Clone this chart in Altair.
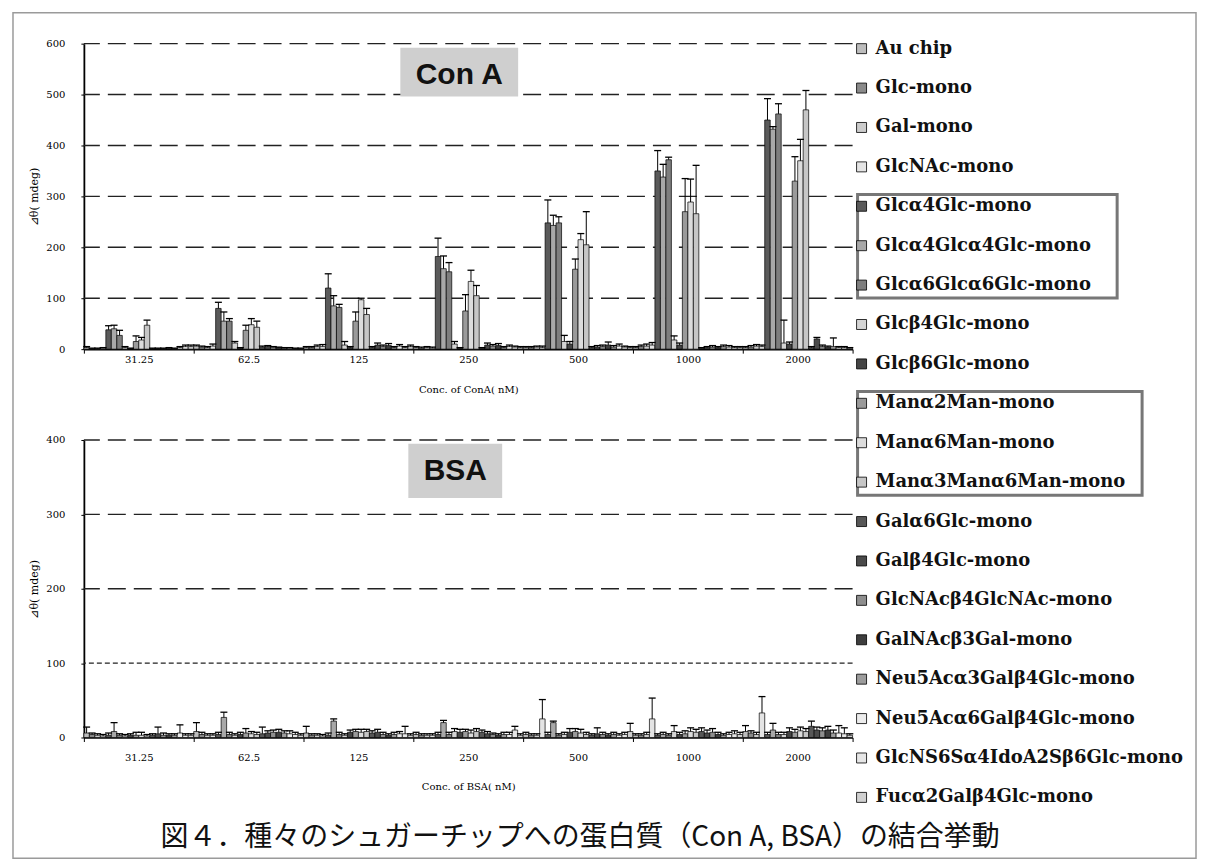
import altair as alt
import pandas as pd

concs = ["31.25", "62.5", "125", "250", "500", "1000", "2000"]

series = [
    "Au chip", "Glc-mono", "Gal-mono", "GlcNAc-mono",
    "Glcα4Glc-mono", "Glcα4Glcα4Glc-mono", "Glcα6Glcα6Glc-mono",
    "Glcβ4Glc-mono", "Glcβ6Glc-mono",
    "Manα2Man-mono", "Manα6Man-mono", "Manα3Manα6Man-mono",
    "Galα6Glc-mono", "Galβ4Glc-mono", "GlcNAcβ4GlcNAc-mono", "GalNAcβ3Gal-mono",
    "Neu5Acα3Galβ4Glc-mono", "Neu5Acα6Galβ4Glc-mono",
    "GlcNS6Sα4IdoA2Sβ6Glc-mono", "Fucα2Galβ4Glc-mono",
]

fills = [
    "#bdbdbd", "#8a8a8a", "#cccccc", "#e4e4e4",
    "#5a5a5a", "#a8a8a8", "#7e7e7e",
    "#d4d4d4", "#454545",
    "#9a9a9a", "#dcdcdc", "#c6c6c6",
    "#575757", "#4a4a4a", "#8e8e8e", "#3e3e3e",
    "#9c9c9c", "#ececec", "#e6e6e6", "#d0d0d0",
]

# Con A: mean values per concentration (20 series each)
cona_31 = [3, 1, 1, 2, 38, 40, 27, 3, 1, 15, 18, 47, 1, 1, 1, 2, 1, 3, 5, 5]
cona_62 = [6, 4, 3, 6, 80, 55, 55, 12, 2, 37, 48, 43, 4, 5, 4, 3, 2, 2, 1, 1]
cona_125 = [3, 3, 5, 5, 120, 85, 82, 8, 3, 55, 97, 68, 3, 8, 5, 7, 3, 6, 3, 5]
cona_250 = [3, 2, 3, 2, 182, 158, 152, 10, 2, 75, 133, 105, 2, 8, 6, 7, 3, 5, 4, 3]
cona_500 = [3, 3, 4, 3, 248, 243, 248, 15, 10, 157, 215, 205, 3, 4, 5, 8, 4, 6, 4, 3]
cona_1000 = [3, 5, 6, 8, 350, 338, 372, 18, 8, 270, 289, 266, 2, 3, 4, 3, 5, 4, 3, 3]
cona_2000 = [3, 4, 6, 5, 450, 432, 462, 12, 10, 330, 370, 470, 3, 20, 5, 4, 5, 3, 3, 2]

cona_31_err = [2, 1, 1, 1, 8, 7, 10, 2, 1, 11, 5, 10, 1, 1, 1, 1, 1, 2, 3, 3]
cona_62_err = [2, 2, 2, 4, 12, 18, 5, 3, 1, 10, 12, 12, 2, 2, 1, 1, 1, 1, 1, 1]
cona_125_err = [2, 2, 3, 4, 28, 20, 6, 7, 2, 18, 3, 12, 2, 4, 3, 4, 2, 3, 2, 3]
cona_250_err = [2, 2, 2, 2, 36, 25, 18, 5, 1, 32, 22, 20, 1, 4, 3, 4, 2, 3, 2, 2]
cona_500_err = [2, 2, 2, 3, 45, 20, 12, 12, 5, 20, 12, 65, 2, 3, 3, 6, 3, 4, 2, 2]
cona_1000_err = [2, 3, 4, 5, 40, 25, 5, 8, 4, 65, 45, 95, 1, 2, 3, 2, 3, 3, 2, 2]
cona_2000_err = [2, 3, 3, 3, 42, 5, 20, 45, 4, 48, 42, 38, 2, 3, 3, 2, 17, 2, 2, 1]

# BSA: mean values per concentration
bsa_31 = [6, 4, 3, 2, 3, 8, 3, 2, 3, 3, 3, 2, 3, 5, 3, 3, 3, 6, 3, 3]
bsa_62 = [8, 4, 3, 3, 4, 27, 4, 3, 4, 6, 5, 4, 5, 6, 7, 7, 6, 5, 4, 3]
bsa_125 = [6, 3, 3, 2, 3, 22, 4, 3, 7, 8, 7, 8, 6, 7, 4, 3, 4, 5, 5, 3]
bsa_250 = [4, 3, 3, 3, 4, 20, 4, 8, 7, 8, 6, 8, 7, 5, 4, 3, 4, 4, 10, 3]
bsa_500 = [4, 3, 3, 25, 4, 20, 3, 4, 7, 8, 6, 4, 3, 5, 4, 3, 4, 3, 4, 8]
bsa_1000 = [3, 3, 4, 25, 3, 4, 3, 8, 4, 5, 8, 7, 8, 6, 7, 4, 3, 4, 5, 4]
bsa_2000 = [8, 6, 4, 33, 4, 10, 4, 4, 8, 7, 9, 8, 15, 10, 9, 10, 6, 6, 5, 3]

bsa_31_err = [8, 2, 2, 2, 3, 12, 2, 2, 2, 4, 4, 2, 2, 9, 3, 2, 2, 11, 2, 2]
bsa_62_err = [12, 3, 2, 2, 3, 7, 3, 2, 3, 6, 3, 3, 9, 3, 3, 4, 3, 4, 3, 2]
bsa_125_err = [9, 2, 2, 2, 3, 3, 3, 2, 3, 3, 4, 3, 3, 4, 3, 2, 3, 3, 10, 2]
bsa_250_err = [3, 2, 2, 2, 3, 3, 3, 4, 4, 3, 4, 4, 3, 3, 2, 2, 3, 3, 5, 2]
bsa_500_err = [3, 2, 2, 26, 3, 2, 2, 3, 5, 4, 5, 3, 2, 8, 3, 2, 3, 2, 3, 11]
bsa_1000_err = [2, 2, 3, 28, 2, 3, 2, 8, 3, 4, 5, 4, 5, 4, 5, 3, 2, 3, 4, 3]
bsa_2000_err = [8, 3, 3, 22, 3, 9, 3, 3, 5, 4, 5, 4, 7, 4, 4, 5, 4, 10, 8, 2]

cona_means = [cona_31, cona_62, cona_125, cona_250, cona_500, cona_1000, cona_2000]
cona_errs = [cona_31_err, cona_62_err, cona_125_err, cona_250_err, cona_500_err, cona_1000_err, cona_2000_err]
bsa_means = [bsa_31, bsa_62, bsa_125, bsa_250, bsa_500, bsa_1000, bsa_2000]
bsa_errs = [bsa_31_err, bsa_62_err, bsa_125_err, bsa_250_err, bsa_500_err, bsa_1000_err, bsa_2000_err]

caption = "図４．種々のシュガーチップへの蛋白質（Con A, BSA）の結合挙動"

# legend groups that are boxed in the original (first index, last index)
boxed_groups = [(4, 6), (9, 11)]


def make_df(means, errs):
    rows = []
    for c, ms, es in zip(concs, means, errs):
        for s, m, e in zip(series, ms, es):
            rows.append({"conc": c, "series": s, "mean": m, "top": m + e})
    return pd.DataFrame(rows)


SERIF = "DejaVu Serif"
W = 770
FILL = alt.Fill("series:N", sort=series, scale=alt.Scale(domain=series, range=fills), legend=None)


def panel(df, ymax, ticks, long_grid, short_grid, xtitle, label, box_x, box_y, lab_y, lab_pad, title_pad, h):
    xaxis = alt.Axis(title=xtitle, labelAngle=0, tickBand="extent", tickSize=4,
                     labelPadding=lab_pad, titlePadding=title_pad,
                     domainColor="black", domainWidth=1.5, tickColor="black",
                     labelFont=SERIF, labelFontSize=10, titleFont=SERIF,
                     titleFontSize=10, titleFontWeight="normal",
                     labelColor="black", titleColor="black")
    xscale = alt.Scale(paddingInner=0, paddingOuter=0)
    xoff = alt.XOffset("series:N", sort=series, scale=alt.Scale(paddingInner=0, paddingOuter=0))
    yscale = alt.Scale(domain=[0, ymax], nice=False)
    yaxis = alt.Axis(title="⊿θ( mdeg)", values=ticks, grid=False, tickSize=3,
                     labelPadding=16, titlePadding=6,
                     domainColor="black", domainWidth=1.8, tickColor="black",
                     labelFont=SERIF, labelFontSize=10, titleFont=SERIF,
                     titleFontSize=11, titleFontWeight="normal",
                     labelColor="black", titleColor="black")

    def X():
        return alt.X("conc:N", sort=concs, scale=xscale, axis=xaxis)

    def Y(field):
        return alt.Y(field, scale=yscale, axis=yaxis)

    base = alt.Chart(df)
    bars = base.mark_bar(stroke="black", strokeWidth=0.7).encode(
        x=X(), xOffset=xoff, y=Y("mean:Q"), fill=FILL)

    layers = []
    layers.append(alt.Chart(pd.DataFrame({"v": long_grid})).mark_rule(
        color="#222222", strokeWidth=1.4, strokeDash=[18, 8]).encode(y=Y("v:Q")))
    if short_grid:
        layers.append(alt.Chart(pd.DataFrame({"v": short_grid})).mark_rule(
            color="#222222", strokeWidth=1.2, strokeDash=[5, 3]).encode(y=Y("v:Q")))

    err = base.mark_rule(color="black", strokeWidth=1).encode(
        x=X(), xOffset=xoff, y=Y("mean:Q"), y2="top:Q")
    cap = base.mark_tick(color="black", thickness=1.3, size=7, opacity=1).encode(
        x=X(), xOffset=xoff, y=Y("top:Q"))

    lab_df = pd.DataFrame({"t": [label], "y1": [box_y[0]], "y2": [box_y[1]], "ym": [lab_y]})
    box = alt.Chart(lab_df).mark_rect(fill="#cfcfcf").encode(
        x=alt.value(box_x[0]), x2=alt.value(box_x[1]),
        y=Y("y1:Q"), y2="y2:Q")
    txt = alt.Chart(lab_df).mark_text(font="Liberation Sans", fontSize=30, fontWeight="bold",
                                      color="#111111", baseline="middle", align="center").encode(
        x=alt.value((box_x[0] + box_x[1]) / 2), y=Y("ym:Q"), text="t:N")

    return alt.layer(*layers, bars, err, cap, box, txt)


top_plot = panel(make_df(cona_means, cona_errs), 600, [0, 100, 200, 300, 400, 500, 600],
                 [100, 200, 300, 400, 500, 600], [], "Conc. of ConA( nM)", "Con A",
                 (317, 435), (592, 496), 538, 1, 20, 306)
bottom_plot = panel(make_df(bsa_means, bsa_errs), 400, [0, 100, 200, 300, 400],
                    [200, 300, 400], [100], "Conc. of BSA( nM)", "BSA",
                    (325, 419), (395, 322), 358, 11, 19, 298)

# custom legend, drawn to the right of the upper plot, spanning the figure height
leg_df = pd.DataFrame({"i": list(range(len(series))), "series": series})
lscale = alt.Scale(domain=[0, len(series) - 1], range=[5, 755], nice=False, zero=False)
squares = alt.Chart(leg_df).mark_square(size=100, stroke="black", strokeWidth=0.8, opacity=1).encode(
    x=alt.value(779), y=alt.Y("i:Q", scale=lscale, axis=None), fill=FILL)
names = alt.Chart(leg_df).mark_text(align="left", baseline="middle", font=SERIF, fontSize=18,
                                    fontWeight="bold", color="#111111").encode(
    x=alt.value(793), y=alt.Y("i:Q", scale=lscale, axis=None), text="series:N")
gb_df = pd.DataFrame({"a": [g[0] - 0.3 for g in boxed_groups], "b": [g[1] + 0.33 for g in boxed_groups],
                      "k": ["g1", "g2"]})
gbox1 = alt.Chart(gb_df).transform_filter(alt.datum.k == "g1").mark_rect(
    fillOpacity=0, stroke="#777777", strokeWidth=3).encode(
    x=alt.value(775), x2=alt.value(1035), y=alt.Y("a:Q", scale=lscale, axis=None), y2="b:Q")
gbox2 = alt.Chart(gb_df).transform_filter(alt.datum.k == "g2").mark_rect(
    fillOpacity=0, stroke="#777777", strokeWidth=3).encode(
    x=alt.value(775), x2=alt.value(1060), y=alt.Y("a:Q", scale=lscale, axis=None), y2="b:Q")

cap_df = pd.DataFrame({"t": [caption]})
cap_txt = alt.Chart(cap_df).mark_text(font="Noto Sans CJK JP", fontSize=28, color="#111111",
                                      baseline="middle", align="center").encode(
    x=alt.value(497), y=alt.value(796), text="t:N")
frame = alt.Chart(cap_df).mark_rect(fillOpacity=0, stroke="#9a9a9a", strokeWidth=1.5).encode(
    x=alt.value(-71), x2=alt.value(1114), y=alt.value(-31), y2=alt.value(816))

legend_layer = alt.layer(gbox1, gbox2, squares, names, cap_txt, frame)

top = alt.layer(top_plot, legend_layer).resolve_scale(y="independent").properties(width=W, height=306)
bottom = bottom_plot.properties(width=W, height=298)

chart = alt.vconcat(top, bottom, spacing=91, bounds="flush").properties(
    padding={"left": 4, "top": 3, "right": 4, "bottom": 3},
).configure_view(stroke=None)

chart.save("out.html", embed_options={"renderer": "svg", "actions": False})
